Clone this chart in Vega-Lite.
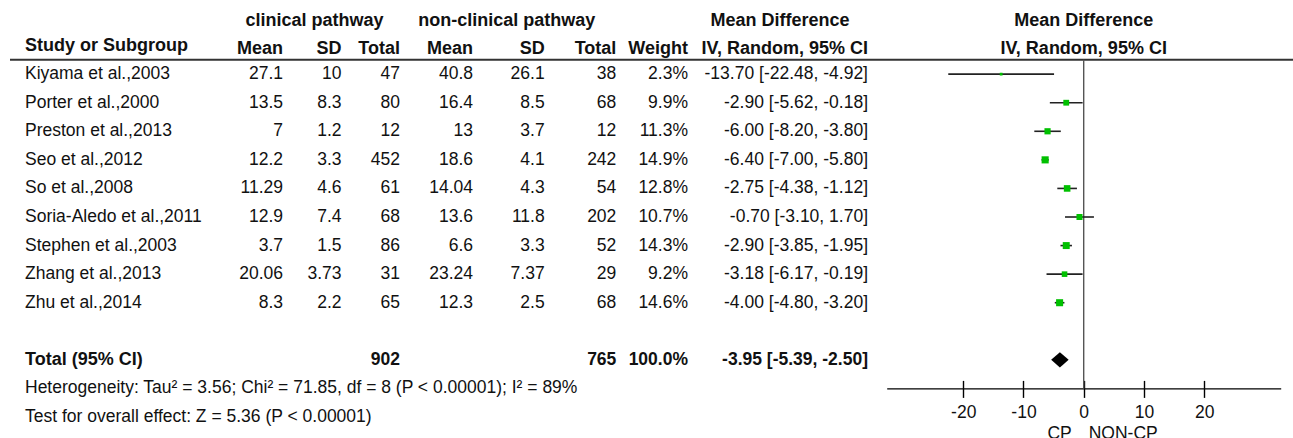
{
  "$schema": "https://vega.github.io/schema/vega-lite/v6.json",
  "width": 1293,
  "height": 438,
  "autosize": {"type": "none"},
  "padding": 0,
  "background": "white",
  "config": {
    "view": {"stroke": null},
    "locale": {"number": {"decimal": ".", "thousands": ",", "grouping": [3], "currency": ["$", ""], "minus": "-"}},
    "text": {"font": "Liberation Sans, Arial, sans-serif", "fontSize": 17.5, "color": "#111", "baseline": "middle"}
  },
  "datasets": {
    "studies": [
      {"row": "Kiyama et al.,2003", "cp_mean": 27.1, "cp_sd": 10, "cp_n": 47, "ncp_mean": 40.8, "ncp_sd": 26.1, "ncp_n": 38, "weight": 2.3, "md": -13.70, "lo": -22.48, "hi": -4.92},
      {"row": "Porter et al.,2000", "cp_mean": 13.5, "cp_sd": 8.3, "cp_n": 80, "ncp_mean": 16.4, "ncp_sd": 8.5, "ncp_n": 68, "weight": 9.9, "md": -2.90, "lo": -5.62, "hi": -0.18},
      {"row": "Preston et al.,2013", "cp_mean": 7, "cp_sd": 1.2, "cp_n": 12, "ncp_mean": 13, "ncp_sd": 3.7, "ncp_n": 12, "weight": 11.3, "md": -6.00, "lo": -8.20, "hi": -3.80},
      {"row": "Seo et al.,2012", "cp_mean": 12.2, "cp_sd": 3.3, "cp_n": 452, "ncp_mean": 18.6, "ncp_sd": 4.1, "ncp_n": 242, "weight": 14.9, "md": -6.40, "lo": -7.00, "hi": -5.80},
      {"row": "So et al.,2008", "cp_mean": 11.29, "cp_sd": 4.6, "cp_n": 61, "ncp_mean": 14.04, "ncp_sd": 4.3, "ncp_n": 54, "weight": 12.8, "md": -2.75, "lo": -4.38, "hi": -1.12},
      {"row": "Soria-Aledo et al.,2011", "cp_mean": 12.9, "cp_sd": 7.4, "cp_n": 68, "ncp_mean": 13.6, "ncp_sd": 11.8, "ncp_n": 202, "weight": 10.7, "md": -0.70, "lo": -3.10, "hi": 1.70},
      {"row": "Stephen et al.,2003", "cp_mean": 3.7, "cp_sd": 1.5, "cp_n": 86, "ncp_mean": 6.6, "ncp_sd": 3.3, "ncp_n": 52, "weight": 14.3, "md": -2.90, "lo": -3.85, "hi": -1.95},
      {"row": "Zhang et al.,2013", "cp_mean": 20.06, "cp_sd": 3.73, "cp_n": 31, "ncp_mean": 23.24, "ncp_sd": 7.37, "ncp_n": 29, "weight": 9.2, "md": -3.18, "lo": -6.17, "hi": -0.19},
      {"row": "Zhu et al.,2014", "cp_mean": 8.3, "cp_sd": 2.2, "cp_n": 65, "ncp_mean": 12.3, "ncp_sd": 2.5, "ncp_n": 68, "weight": 14.6, "md": -4.00, "lo": -4.80, "hi": -3.20}
    ],
    "overall": [
      {"row": "Total (95% CI)", "cp_n": 902, "ncp_n": 765, "weight": 100.0, "md": -3.95, "lo": -5.39, "hi": -2.50}
    ],
    "notes": [
      {"row": "het", "note": "Heterogeneity: Tau² = 3.56; Chi² = 71.85, df = 8 (P < 0.00001); I² = 89%"},
      {"row": "test", "note": "Test for overall effect: Z = 5.36 (P < 0.00001)"}
    ],
    "cpHeaders": [
      {"row": "h2", "col": "cp_mean", "label": "Mean"},
      {"row": "h2", "col": "cp_sd", "label": "SD"},
      {"row": "h2", "col": "cp_n", "label": "Total"}
    ],
    "ncpHeaders": [
      {"row": "h2", "col": "ncp_mean", "label": "Mean"},
      {"row": "h2", "col": "ncp_sd", "label": "SD"},
      {"row": "h2", "col": "ncp_n", "label": "Total"},
      {"row": "h2", "col": "weight_pct", "label": "Weight"}
    ]
  },
  "encoding": {
    "y": {
      "field": "row",
      "type": "nominal",
      "axis": null,
      "scale": {
        "type": "point",
        "padding": 0,
        "range": [17, 417],
        "domain": ["h1", "h2", "Kiyama et al.,2003", "Porter et al.,2000", "Preston et al.,2013", "Seo et al.,2012", "So et al.,2008", "Soria-Aledo et al.,2011", "Stephen et al.,2003", "Zhang et al.,2013", "Zhu et al.,2014", "gap", "Total (95% CI)", "het", "test"]
      }
    }
  },
  "layer": [
    {
      "description": "header underline",
      "data": {"values": [{}]},
      "mark": {"type": "rule", "color": "#333", "strokeWidth": 2, "yOffset": 14.3},
      "encoding": {
        "x": {"datum": "edge", "type": "nominal", "axis": null, "scale": {"type": "point", "domain": ["edge", "label"], "range": [10, 25], "padding": 0}},
        "x2": {"value": "width"},
        "y": {"datum": "h2", "type": "nominal"}
      }
    },
    {
      "data": {"name": "studies"},
      "mark": {"type": "text", "align": "left"},
      "encoding": {
        "x": {"datum": "label", "type": "nominal", "axis": null, "scale": {"type": "point", "domain": ["edge", "label"], "range": [10, 25], "padding": 0}},
        "text": {"field": "row", "type": "nominal"}
      }
    },
    {
      "data": {"values": [{"row": "h2", "label": "Study or Subgroup", "lift": 3}, {"row": "Total (95% CI)", "label": "Total (95% CI)", "lift": 0}]},
      "mark": {"type": "text", "align": "left", "fontWeight": "bold", "fontSize": 18},
      "encoding": {
        "x": {"datum": "label", "type": "nominal", "axis": null, "scale": {"type": "point", "domain": ["edge", "label"], "range": [10, 25], "padding": 0}},
        "text": {"field": "label", "type": "nominal"}
      }
    },
    {
      "data": {"name": "notes"},
      "mark": {"type": "text", "align": "left"},
      "encoding": {
        "x": {"datum": "label", "type": "nominal", "axis": null, "scale": {"type": "point", "domain": ["edge", "label"], "range": [10, 25], "padding": 0}},
        "text": {"field": "note", "type": "nominal"}
      }
    },
    {
      "data": {"name": "studies"},
      "transform": [{"fold": ["cp_mean", "cp_sd", "cp_n"], "as": ["col", "val"]}],
      "mark": {"type": "text", "align": "right"},
      "encoding": {
        "x": {"field": "col", "type": "nominal", "axis": null, "scale": {"type": "point", "domain": ["cp_mean", "cp_sd", "cp_n"], "range": [283, 400], "padding": 0}},
        "text": {"field": "val", "type": "nominal"}
      }
    },
    {
      "data": {"name": "cpHeaders"},
      "mark": {"type": "text", "align": "right", "fontWeight": "bold", "fontSize": 18, "dy": 3},
      "encoding": {
        "x": {"field": "col", "type": "nominal", "axis": null, "scale": {"type": "point", "domain": ["cp_mean", "cp_sd", "cp_n"], "range": [283, 400], "padding": 0}},
        "text": {"field": "label", "type": "nominal"}
      }
    },
    {
      "data": {"name": "overall"},
      "transform": [{"fold": ["cp_n"], "as": ["col", "val"]}],
      "mark": {"type": "text", "align": "right", "fontWeight": "bold"},
      "encoding": {
        "x": {"field": "col", "type": "nominal", "axis": null, "scale": {"type": "point", "domain": ["cp_mean", "cp_sd", "cp_n"], "range": [283, 400], "padding": 0}},
        "text": {"field": "val", "type": "nominal"}
      }
    },
    {
      "data": {"values": [{}]},
      "mark": {"type": "text", "align": "center", "fontWeight": "bold", "fontSize": 18, "text": "clinical pathway", "dx": -27, "dy": 4},
      "encoding": {
        "x": {"datum": "cp_sd", "type": "nominal", "axis": null, "scale": {"type": "point", "domain": ["cp_mean", "cp_sd", "cp_n"], "range": [283, 400], "padding": 0}},
        "y": {"datum": "h1", "type": "nominal"}
      }
    },
    {
      "data": {"name": "studies"},
      "transform": [
        {"calculate": "format(datum.weight, '.1f') + '%'", "as": "weight_pct"},
        {"fold": ["ncp_mean", "ncp_sd", "ncp_n", "weight_pct"], "as": ["col", "val"]}
      ],
      "mark": {"type": "text", "align": "right"},
      "encoding": {
        "x": {"field": "col", "type": "nominal", "axis": null, "scale": {"type": "point", "domain": ["ncp_mean", "ncp_sd", "ncp_n", "weight_pct"], "range": [473, 688], "padding": 0}},
        "text": {"field": "val", "type": "nominal"}
      }
    },
    {
      "data": {"name": "ncpHeaders"},
      "mark": {"type": "text", "align": "right", "fontWeight": "bold", "fontSize": 18, "dy": 3},
      "encoding": {
        "x": {"field": "col", "type": "nominal", "axis": null, "scale": {"type": "point", "domain": ["ncp_mean", "ncp_sd", "ncp_n", "weight_pct"], "range": [473, 688], "padding": 0}},
        "text": {"field": "label", "type": "nominal"}
      }
    },
    {
      "data": {"name": "overall"},
      "transform": [
        {"calculate": "format(datum.weight, '.1f') + '%'", "as": "weight_pct"},
        {"fold": ["ncp_n", "weight_pct"], "as": ["col", "val"]}
      ],
      "mark": {"type": "text", "align": "right", "fontWeight": "bold"},
      "encoding": {
        "x": {"field": "col", "type": "nominal", "axis": null, "scale": {"type": "point", "domain": ["ncp_mean", "ncp_sd", "ncp_n", "weight_pct"], "range": [473, 688], "padding": 0}},
        "text": {"field": "val", "type": "nominal"}
      }
    },
    {
      "data": {"values": [{}]},
      "mark": {"type": "text", "align": "center", "fontWeight": "bold", "fontSize": 18, "text": "non-clinical pathway", "dx": -38, "dy": 4},
      "encoding": {
        "x": {"datum": "ncp_sd", "type": "nominal", "axis": null, "scale": {"type": "point", "domain": ["ncp_mean", "ncp_sd", "ncp_n", "weight_pct"], "range": [473, 688], "padding": 0}},
        "y": {"datum": "h1", "type": "nominal"}
      }
    },
    {
      "data": {"name": "studies"},
      "transform": [{"calculate": "format(datum.md, '.2f') + ' [' + format(datum.lo, '.2f') + ', ' + format(datum.hi, '.2f') + ']'", "as": "ci"}],
      "mark": {"type": "text", "align": "right"},
      "encoding": {
        "x": {"datum": "ci", "type": "nominal", "axis": null, "scale": {"type": "point", "domain": ["ci"], "range": [868, 868], "padding": 0}},
        "text": {"field": "ci", "type": "nominal"}
      }
    },
    {
      "data": {"name": "overall"},
      "transform": [{"calculate": "format(datum.md, '.2f') + ' [' + format(datum.lo, '.2f') + ', ' + format(datum.hi, '.2f') + ']'", "as": "ci"}],
      "mark": {"type": "text", "align": "right", "fontWeight": "bold"},
      "encoding": {
        "x": {"datum": "ci", "type": "nominal", "axis": null, "scale": {"type": "point", "domain": ["ci"], "range": [868, 868], "padding": 0}},
        "text": {"field": "ci", "type": "nominal"}
      }
    },
    {
      "data": {"values": [{}]},
      "mark": {"type": "text", "align": "right", "fontWeight": "bold", "fontSize": 18, "text": "IV, Random, 95% CI", "dy": 3},
      "encoding": {
        "x": {"datum": "ci", "type": "nominal", "axis": null, "scale": {"type": "point", "domain": ["ci"], "range": [868, 868], "padding": 0}},
        "y": {"datum": "h2", "type": "nominal"}
      }
    },
    {
      "data": {"values": [{}]},
      "mark": {"type": "text", "align": "center", "fontWeight": "bold", "fontSize": 18, "text": "Mean Difference", "dx": -88, "dy": 4},
      "encoding": {
        "x": {"datum": "ci", "type": "nominal", "axis": null, "scale": {"type": "point", "domain": ["ci"], "range": [868, 868], "padding": 0}},
        "y": {"datum": "h1", "type": "nominal"}
      }
    },
    {
      "description": "line of no effect",
      "data": {"values": [{}]},
      "mark": {"type": "rule", "color": "#555", "strokeWidth": 1.4, "yOffset": 14.3},
      "encoding": {
        "x": {"datum": 0, "type": "quantitative", "axis": null, "scale": {"domain": [-32.7, 32.7], "range": [886.7, 1280.7], "nice": false, "zero": false}},
        "y": {"datum": "h2", "type": "nominal"},
        "y2": {"datum": "het"}
      }
    },
    {
      "data": {"name": "studies"},
      "mark": {"type": "rule", "color": "#222", "strokeWidth": 1.6},
      "encoding": {
        "x": {
          "field": "lo", "type": "quantitative",
          "scale": {"domain": [-32.7, 32.7], "range": [886.7, 1280.7], "nice": false, "zero": false},
          "axis": {
            "orient": "bottom", "offset": -49.6, "values": [-20, -10, 0, 10, 20], "format": "d",
            "title": null, "grid": false, "domain": true, "domainColor": "#000", "domainWidth": 1.4,
            "ticks": true, "tickSize": 9, "tickColor": "#000", "tickWidth": 1.4,
            "labelFont": "Liberation Sans, Arial, sans-serif", "labelFontSize": 17.5, "labelColor": "#111",
            "labelPadding": 6, "labelFlush": false, "labelOverlap": false
          }
        },
        "x2": {"field": "hi"}
      }
    },
    {
      "data": {"name": "studies"},
      "mark": {"type": "point", "shape": "square", "filled": true, "color": "#00c000", "opacity": 1, "strokeWidth": 0},
      "encoding": {
        "x": {
          "field": "md", "type": "quantitative",
          "scale": {"domain": [-32.7, 32.7], "range": [886.7, 1280.7], "nice": false, "zero": false},
          "axis": {
            "orient": "top", "offset": -388.4, "values": [-20, -10, 0, 10, 20],
            "title": null, "grid": false, "domain": false, "labels": false,
            "ticks": true, "tickSize": 8, "tickColor": "#000", "tickWidth": 1.4
          }
        },
        "size": {"field": "weight", "type": "quantitative", "legend": null, "scale": {"domain": [0, 15], "range": [0, 51]}}
      }
    },
    {
      "data": {"name": "overall"},
      "mark": {"type": "point", "shape": "M -1 0 L 0 -0.86 L 1 0 L 0 0.86 Z", "size": 306, "filled": true, "color": "#000", "opacity": 1, "strokeWidth": 0},
      "encoding": {
        "x": {"field": "md", "type": "quantitative", "axis": null, "scale": {"domain": [-32.7, 32.7], "range": [886.7, 1280.7], "nice": false, "zero": false}}
      }
    },
    {
      "data": {"values": [{"row": "h1", "label": "Mean Difference"}, {"row": "h2", "label": "IV, Random, 95% CI"}]},
      "mark": {"type": "text", "align": "center", "fontWeight": "bold", "fontSize": 18, "dy": 3.5},
      "encoding": {
        "x": {"datum": 0, "type": "quantitative", "axis": null, "scale": {"domain": [-32.7, 32.7], "range": [886.7, 1280.7], "nice": false, "zero": false}},
        "text": {"field": "label", "type": "nominal"}
      }
    },
    {
      "data": {"values": [{}]},
      "mark": {"type": "text", "align": "right", "text": "CP", "dx": -12, "dy": 17},
      "encoding": {
        "x": {"datum": 0, "type": "quantitative", "axis": null, "scale": {"domain": [-32.7, 32.7], "range": [886.7, 1280.7], "nice": false, "zero": false}},
        "y": {"datum": "test", "type": "nominal"}
      }
    },
    {
      "data": {"values": [{}]},
      "mark": {"type": "text", "align": "left", "text": "NON-CP", "dx": 5, "dy": 17},
      "encoding": {
        "x": {"datum": 0, "type": "quantitative", "axis": null, "scale": {"domain": [-32.7, 32.7], "range": [886.7, 1280.7], "nice": false, "zero": false}},
        "y": {"datum": "test", "type": "nominal"}
      }
    }
  ],
  "resolve": {"scale": {"x": "independent"}}
}
